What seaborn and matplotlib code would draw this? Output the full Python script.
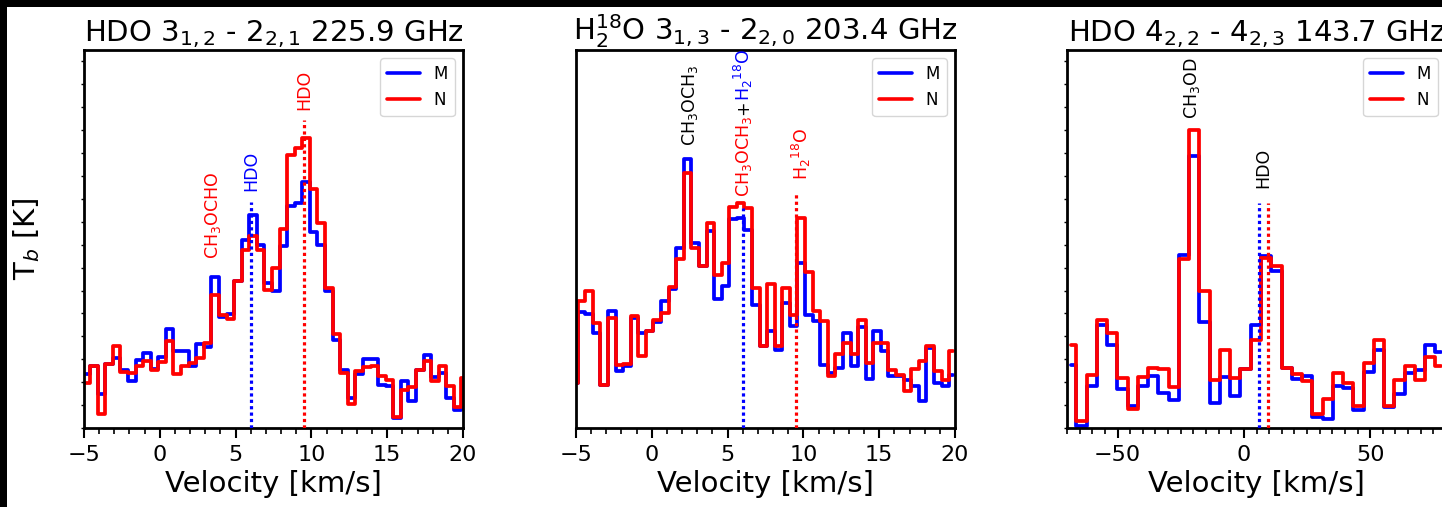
import numpy as np
import pandas as pd
import matplotlib
matplotlib.use("Agg")
import matplotlib.pyplot as plt
from matplotlib.ticker import MultipleLocator
from matplotlib.patches import Rectangle
import seaborn as sns

# --- Dados (T_b em unidades arbitrárias, escala 0-1135) ---

# HDO 3(1,2)-2(2,1) 225.9 GHz, canais de 0.5 km/s
v_225 = np.round(-4.85 + 0.5 * np.arange(51), 2)
m_225 = [162, 185, 102, 192, 210, 175, 140, 205, 225, 177, 212, 297, 230, 230, 185, 252, 242,
         453, 332, 342, 442, 563, 640, 550, 435, 412, 545, 667, 675, 738, 588, 548, 412, 265,
         175, 90, 162, 208, 207, 130, 125, 30, 142, 80, 175, 218, 152, 165, 90, 55, 60]
n_225 = [135, 185, 42, 192, 245, 167, 165, 185, 202, 175, 197, 260, 162, 185, 195, 210, 255,
         398, 340, 327, 440, 535, 577, 535, 415, 480, 597, 820, 840, 870, 718, 615, 420, 282,
         165, 72, 172, 182, 185, 155, 145, 32, 115, 122, 175, 202, 140, 185, 125, 63, 150]

# H2-18O 3(1,3)-2(2,0) 203.4 GHz, canais de 0.5 km/s
v_203 = np.round(-5.14 + 0.5 * np.arange(51), 2)
m_203 = [135, 348, 342, 285, 130, 350, 172, 185, 330, 285, 290, 317, 380, 417, 540, 809, 555,
         485, 593, 388, 425, 627, 630, 595, 370, 245, 292, 235, 375, 305, 495, 340, 320, 190,
         165, 180, 285, 185, 302, 147, 290, 230, 155, 155, 145, 125, 80, 240, 135, 125, 160]
n_203 = [135, 380, 412, 315, 130, 330, 190, 192, 335, 215, 290, 325, 345, 423, 508, 767, 540,
         485, 617, 460, 495, 663, 675, 660, 420, 245, 432, 245, 419, 340, 632, 467, 350, 320,
         155, 222, 255, 222, 325, 195, 255, 255, 175, 160, 110, 177, 200, 247, 170, 145, 230]

# HDO 4(2,2)-4(2,3) 143.7 GHz, canais de ~4.06 km/s
v_143 = np.round(-68.33 + 4.06 * np.arange(37), 2)
m_143 = [190, 5, 125, 310, 250, 117, 67, 125, 157, 105, 85, 520, 817, 318, 75, 152, 97, 178,
         310, 515, 470, 180, 148, 155, 32, 28, 125, 120, 55, 167, 233, 63, 102, 165, 175, 248, 227]
n_143 = [250, 20, 160, 325, 285, 150, 57, 152, 180, 177, 122, 507, 895, 412, 145, 235, 150, 178,
         263, 510, 487, 180, 162, 140, 42, 87, 165, 135, 65, 195, 265, 67, 145, 185, 145, 213, 187]

# linhas verticais: (velocidade, topo, cor)
linhas_225 = [(6.0, 680, 'blue'), (9.5, 925, 'red')]
linhas_203 = [(6.0, 660, 'blue'), (9.5, 705, 'red')]
linhas_143 = [(6.0, 675, 'blue'), (9.5, 675, 'red')]

# rótulos: (velocidade, base do texto, texto, cor)
rotulos_225 = [(3.5, 507, 'CH$_3$OCHO', 'red'), (6.0, 713, 'HDO', 'blue'), (9.5, 955, 'HDO', 'red')]
rotulos_203 = [(2.5, 847, 'CH$_3$OCH$_3$', 'black'), (9.85, 745, 'H$_2$$^{18}$O', 'red')]
rotulos_143 = [(-20.4, 927, 'CH$_3$OD', 'black'), (7.75, 720, 'HDO', 'black')]

titulos = ['HDO 3$_{1,2}$ - 2$_{2,1}$ 225.9 GHz',
           'H$_2^{18}$O 3$_{1,3}$ - 2$_{2,0}$ 203.4 GHz',
           'HDO 4$_{2,2}$ - 4$_{2,3}$ 143.7 GHz']

# --- Estilo ---
sns.set_theme(style="ticks")
plt.rcParams['font.family'] = ['DejaVu Sans']
for chave in ['axes.edgecolor', 'xtick.color', 'ytick.color', 'text.color', 'axes.labelcolor']:
    plt.rcParams[chave] = 'black'
plt.rcParams['axes.linewidth'] = 2.0

TAM_ROTULO = 12.5

fig = plt.figure(figsize=(14.42, 5.07), dpi=100)
fig.patch.set_facecolor('white')

W, H = 1442, 507
lefts = [84, 576, 1067]
axes = [fig.add_axes([l / W, (H - 428) / H, 379 / W, 378 / H]) for l in lefts]


def painel(ax, v, m, n, xlim, maior, menor, titulo, linhas, rotulos, yticks=True):
    df = pd.DataFrame({'v': v, 'M': m, 'N': n})
    sns.lineplot(data=df, x='v', y='M', color='blue', lw=2.7, drawstyle='steps-mid',
                 label='M', errorbar=None, ax=ax)
    sns.lineplot(data=df, x='v', y='N', color='red', lw=2.7, drawstyle='steps-mid',
                 label='N', errorbar=None, ax=ax)
    for x, topo, cor in linhas:
        ax.vlines(x, 0, topo, colors=cor, linestyles=(0, (1, 1)), lw=2.3, zorder=3)
    for x, y, txt, cor in rotulos:
        ax.text(x, y, txt, color=cor, rotation=90, ha='center', va='bottom', fontsize=TAM_ROTULO)
    ax.set_xlim(*xlim)
    ax.set_ylim(0, 1135)
    ax.xaxis.set_major_locator(MultipleLocator(maior))
    ax.xaxis.set_minor_locator(MultipleLocator(menor))
    ax.tick_params(axis='x', which='major', labelsize=16, length=7, width=1.5,
                   direction='out', pad=5)
    ax.tick_params(axis='x', which='minor', length=4, width=1.2, direction='out')
    if yticks:
        ax.yaxis.set_major_locator(MultipleLocator(68.8))
        ax.tick_params(axis='y', which='major', length=2.5, width=1, labelleft=False)
    else:
        ax.set_yticks([])
    ax.set_xlabel('Velocity [km/s]', fontsize=21, labelpad=4)
    ax.set_ylabel('')
    ax.set_title(titulo, fontsize=21)
    leg = ax.legend(loc='upper right', fontsize=12, handlelength=2.0, frameon=True)
    for l in leg.get_lines():
        l.set_linewidth(2.6)


painel(axes[0], v_225, m_225, n_225, (-5, 20), 5, 1, titulos[0], linhas_225, rotulos_225)
painel(axes[1], v_203, m_203, n_203, (-5, 20), 5, 1, titulos[1], linhas_203, rotulos_203, yticks=False)
painel(axes[2], v_143, m_143, n_143, (-70, 80), 50, 5, titulos[2], linhas_143, rotulos_143)

# rótulo composto no painel do meio (CH3OCH3 + H2-18O)
ax = axes[1]
t1 = ax.text(6.05, 695, 'CH$_3$OCH$_3$', color='red', rotation=90, ha='center', va='bottom',
             fontsize=TAM_ROTULO)
t2 = ax.annotate('+', xy=(0.5, 1), xycoords=t1, color='black', rotation=90,
                 ha='center', va='bottom', fontsize=TAM_ROTULO)
ax.annotate('H$_2$$^{18}$O', xy=(0.5, 1), xycoords=t2, color='blue', rotation=90,
            ha='center', va='bottom', fontsize=TAM_ROTULO, annotation_clip=False)

axes[0].set_ylabel('T$_b$ [K]', fontsize=21)
axes[0].yaxis.set_label_coords(-0.11, 0.5)

# bordas pretas (topo e esquerda) como na imagem original
fig.add_artist(Rectangle((0, 1 - 7 / H), 1, 7 / H, transform=fig.transFigure,
                         facecolor='black', edgecolor='none', zorder=10))
fig.add_artist(Rectangle((0, 0), 7 / W, 1, transform=fig.transFigure,
                         facecolor='black', edgecolor='none', zorder=10))

fig.savefig('out.png', dpi=100)
